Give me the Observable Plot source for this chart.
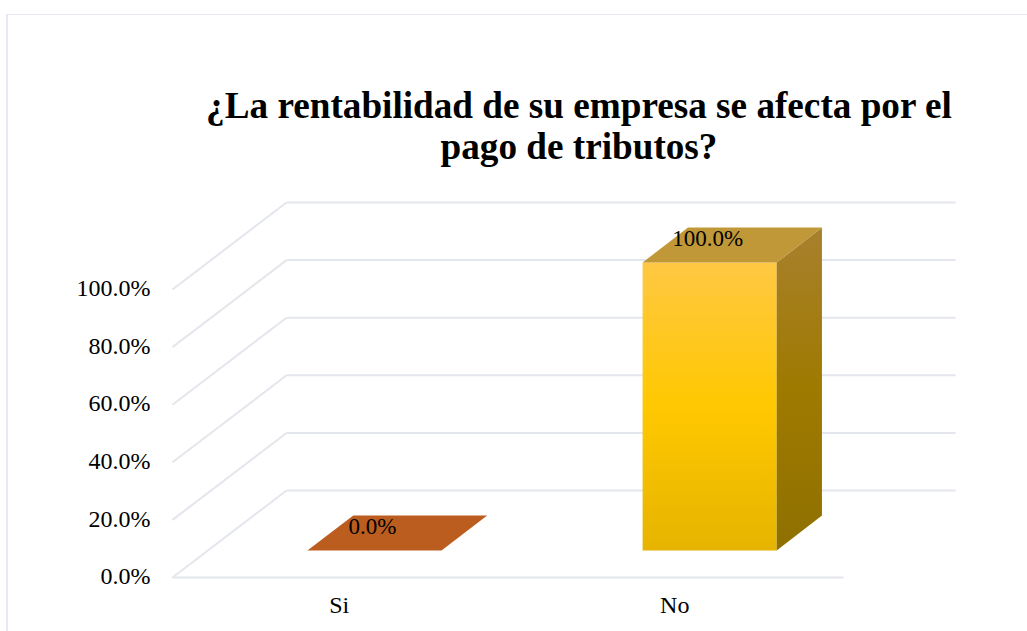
<!DOCTYPE html>
<html lang="es">
<head>
<meta charset="utf-8">
<script src="https://cdn.jsdelivr.net/npm/d3@7"></script>
<script src="https://cdn.jsdelivr.net/npm/@observablehq/plot@0.6"></script>
<style>
  html, body { margin: 0; padding: 0; background: #fff; overflow: hidden; width: 1027px; height: 631px; }
  #frame { position: absolute; left: 6px; top: 14px; width: 1100px; height: 700px; border-left: 2px solid #e6e9f1; border-top: 1.5px solid #e6e9f1; }
  #title { position: absolute; left: 179px; top: 85px; width: 800px; text-align: center; font: bold 37.2px/41px "Liberation Serif", serif; color: #000; white-space: nowrap; }
  #chart { position: absolute; left: 0; top: 170px; }
  #chart svg { overflow: visible; background: transparent; display: block; }
</style>
</head>
<body>
<div id="frame"></div>
<div id="title">¿La rentabilidad de su empresa se afecta por el<br>pago de tributos?</div>
<div id="chart"></div>
<script>
// Data
const categories = ["Si", "No"];
const values = [0, 100];
const yTicks = [0, 20, 40, 60, 80, 100];

// 3D box projection parameters (in data units)
const depthX = 0.34, depthY = 30.2, shrink = 0.003;
const barWidth = 0.4, barFront = 0.31, barBack = 0.713, barShift = -0.003;
const project = (c, v, d) => ({x: c * (1 - shrink * d) + d * depthX, y: v + d * depthY});

// Faces
const faces = [
  {front: "#bb5d1f", top: "#bb5d1f", side: "#8f4a18"},
  {front: "url(#frontGrad)", top: "#c09838", side: "url(#sideGrad)"}
];

const gridBack = yTicks.map(v => [project(0, v, 1), project(2, v, 1)]);
const gridSide = yTicks.map(v => [project(0, v, 0), project(0, v, 1)]);
const floor = [project(0, 0, 0), project(2, 0, 0)];
const gridLine = pts => Plot.line(pts, {x: "x", y: "y", stroke: "#e3e6ec", strokeWidth: 2, strokeLinecap: "butt"});

const boxMarks = values.flatMap((v, i) => {
  const a = i + 0.5 + barShift - barWidth / 2, b = i + 0.5 + barShift + barWidth / 2;
  const poly = (pts, fill) => Plot.line([...pts, pts[0]], {x: "x", y: "y", fill, stroke: "none"});
  return [
    poly([project(a, 0, barFront), project(b, 0, barFront), project(b, v, barFront), project(a, v, barFront)], faces[i].front),
    poly([project(b, 0, barFront), project(b, 0, barBack), project(b, v, barBack), project(b, v, barFront)], faces[i].side),
    poly([project(a, v, barFront), project(b, v, barFront), project(b, v, barBack), project(a, v, barBack)], faces[i].top)
  ];
});

const labels = values.map((v, i) => ({
  text: v.toFixed(1) + "%",
  x: project(i + 0.5 + barShift, v, barFront).x,
  y: project(i + 0.5, v, barBack).y
}));

const defs = () => {
  const svg = d3.create("svg:defs");
  const grad = (id, stops) => {
    const g = svg.append("linearGradient").attr("id", id).attr("x1", 0).attr("y1", 0).attr("x2", 0).attr("y2", 1);
    stops.forEach(([o, c]) => g.append("stop").attr("offset", o).attr("stop-color", c));
  };
  grad("frontGrad", [[0, "#ffc843"], [0.5, "#ffc800"], [1, "#e6b400"]]);
  grad("sideGrad", [[0, "#a8802e"], [0.5, "#9f7a00"], [1, "#8f7000"]]);
  return svg.node();
};

const chart = Plot.plot({
  width: 1027, height: 461,
  marginLeft: 172, marginRight: 184, marginTop: 119, marginBottom: 54,
  style: {fontFamily: '"Liberation Serif", serif', color: "#000", background: "transparent"},
  x: {domain: [0, 2], axis: null},
  y: {domain: [0, 100], axis: null},
  marks: [
    defs,
    ...gridBack.map(gridLine),
    ...gridSide.map(gridLine),
    gridLine(floor),
    ...boxMarks,
    Plot.axisY({ticks: yTicks, tickSize: 0, tickPadding: 22, dy: -1, fontSize: 24, tickFormat: d => d.toFixed(1) + "%", label: null}),
    Plot.axisX({ticks: categories.map((_, i) => i + 0.5), tickSize: 0, tickPadding: 18, dx: -1, fontSize: 24, tickFormat: d => categories[Math.floor(d)], label: null}),
    Plot.text(labels, {x: "x", y: "y", text: "text", dy: 11, dx: -2, fontSize: 23, fill: "#000"})
  ]
});
document.getElementById("chart").appendChild(chart);
</script>
</body>
</html>
